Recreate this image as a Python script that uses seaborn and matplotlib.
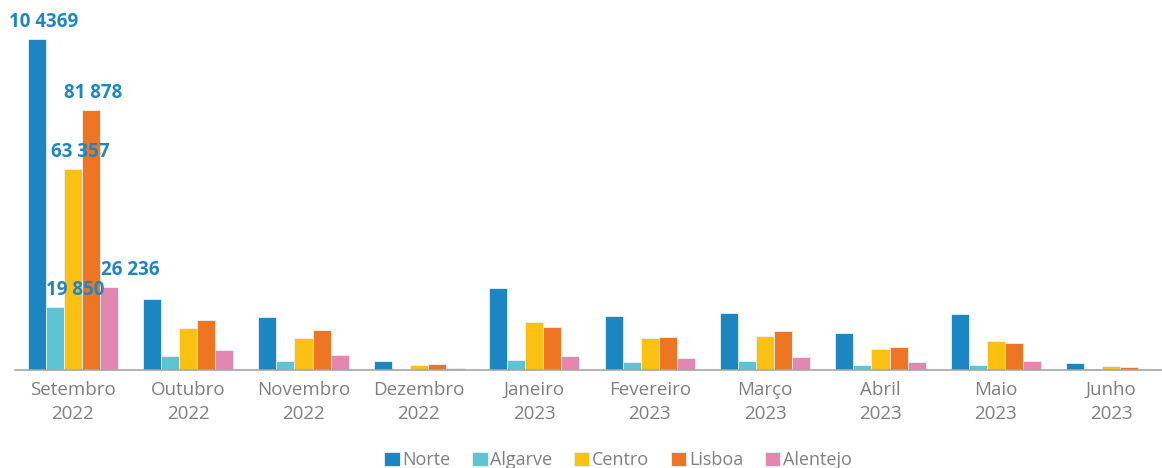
import matplotlib
matplotlib.use("Agg")
import matplotlib.pyplot as plt
import seaborn as sns
import pandas as pd
import numpy as np

# values
months = ["Setembro\n2022", "Outubro\n2022", "Novembro\n2022", "Dezembro\n2022",
          "Janeiro\n2023", "Fevereiro\n2023", "Março\n2023", "Abril\n2023",
          "Maio\n2023", "Junho\n2023"]
regions = ["Norte", "Algarve", "Centro", "Lisboa", "Alentejo"]
norte = [104369, 22480, 16810, 2740, 25750, 16920, 17970, 11670, 17660, 2300]
algarve = [19850, 4510, 2740, 400, 3150, 2620, 2940, 1470, 1470, 300]
centro = [63357, 13140, 10090, 1580, 15030, 10190, 10720, 6620, 9040, 1170]
lisboa = [81878, 15870, 12510, 1890, 13560, 10250, 12300, 7250, 8510, 950]
alentejo = [26236, 6200, 4730, 630, 4410, 3680, 4100, 2520, 2840, 300]
# labels shown above the first group (typo kept as in the original)
sept_labels = ["10 4369", "19 850", "63 357", "81 878", "26 236"]

colors = ["#1B86C2", "#5EC3D3", "#FCC012", "#EE7623", "#E287B0"]
label_color = "#1F86C3"
grey = "#7F7F7F"

series = [norte, algarve, centro, lisboa, alentejo]
df = pd.DataFrame({
    "mes": np.tile(months, len(regions)),
    "regiao": np.repeat(regions, len(months)),
    "valor": np.concatenate(series),
})

sns.set_style("white")
plt.rcParams["font.family"] = ["Open Sans", "DejaVu Sans"]

fig = plt.figure(figsize=(11.62, 4.68), dpi=100)
ax = fig.add_axes([15 / 1162, 98 / 468, 1154 / 1162, 370 / 468])

sns.barplot(data=df, x="mes", y="valor", hue="regiao", order=months,
            hue_order=regions, palette=colors, saturation=1, width=0.78, ax=ax,
            edgecolor="#EAF3F8", linewidth=0.6, errorbar=None, legend=True)

ax.set_xlim(-0.5, len(months) - 0.5)
ax.set_ylim(0, 104369 * 370 / 331)
ax.set_xlabel("")
ax.set_ylabel("")
ax.set_yticks([])
for s in ["left", "top", "right"]:
    ax.spines[s].set_visible(False)
ax.spines["bottom"].set_color("#A6A6A6")
ax.spines["bottom"].set_linewidth(1.2)

ax.set_xticks(range(len(months)))
ax.set_xticklabels(months, color=grey, fontsize=13.5, linespacing=1.45)
ax.tick_params(axis="x", which="major", length=0, pad=8)
ax.set_xticks(np.arange(-0.5, len(months), 1), minor=True)
ax.tick_params(axis="x", which="minor", length=5, color="#A6A6A6", width=1.2)

# labels on the first group only
offsets = [7, 20, 8, 2, 22]
for i, cont in enumerate(ax.containers):
    bar = cont.patches[0]
    x = bar.get_x() + bar.get_width() / 2
    y = bar.get_height()
    ax.annotate(sept_labels[i], (x, y), xytext=(offsets[i], 17),
                textcoords="offset pixels", ha="center", va="center",
                fontsize=13.5, fontweight="bold", color=label_color)

handles, labs = ax.get_legend_handles_labels()
ax.legend(handles, labs, loc="center", bbox_to_anchor=(618 / 1162, 1 - 460 / 468),
          bbox_transform=fig.transFigure, ncol=5, frameon=False,
          fontsize=13, labelcolor=grey, handlelength=0.85, handleheight=0.85,
          handletextpad=0.15, columnspacing=1.2)

fig.savefig("out.png", dpi=100)
